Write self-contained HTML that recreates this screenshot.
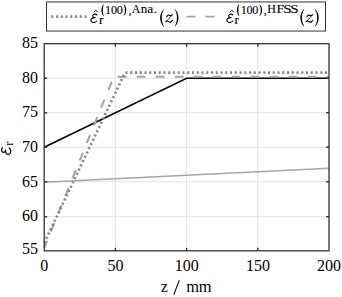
<!DOCTYPE html>
<html><head><meta charset="utf-8">
<style>
html,body{margin:0;padding:0;background:#fff;width:342px;height:297px;overflow:hidden}
svg{display:block}
text{font-family:"Liberation Serif",serif;fill:#000}
</style></head>
<body>
<svg width="342" height="297" viewBox="0 0 342 297">
<rect x="0" y="0" width="342" height="297" fill="#fff"/>
<g stroke="#e3e3e3" stroke-width="1" fill="none">
<line x1="115.40" y1="44.20" x2="115.40" y2="250.30"/>
<line x1="186.60" y1="44.20" x2="186.60" y2="250.30"/>
<line x1="257.80" y1="44.20" x2="257.80" y2="250.30"/>
<line x1="44.70" y1="216.73" x2="328.50" y2="216.73"/>
<line x1="44.70" y1="181.77" x2="328.50" y2="181.77"/>
<line x1="44.70" y1="147.25" x2="328.50" y2="147.25"/>
<line x1="44.70" y1="112.73" x2="328.50" y2="112.73"/>
<line x1="44.70" y1="78.22" x2="328.50" y2="78.22"/>
</g>
<polyline points="44.20,182.27 329.00,168.26" fill="none" stroke="#a6a6a6" stroke-width="1.4"/>
<polyline points="44.20,147.25 186.60,78.22 329.00,78.22" fill="none" stroke="#000" stroke-width="1.5"/>
<path d="M44.2,248 L113.70,76.80" fill="none" stroke="#a3a3a3" stroke-width="2" stroke-dasharray="8.8 10.25" stroke-dashoffset="1.0"/>
<path d="M113.70,76.80 L329,76.80" fill="none" stroke="#a3a3a3" stroke-width="2" stroke-dasharray="8.8 10.2" stroke-dashoffset="15.00"/>
<path d="M44.2,243.1 L125.00,72.60" fill="none" stroke="#858585" stroke-width="2.7" stroke-dasharray="2.0 2.72" stroke-dashoffset="-0.1"/>
<path d="M125.00,72.60 L329,72.60" fill="none" stroke="#858585" stroke-width="2.7" stroke-dasharray="2.0 2.75" stroke-dashoffset="4.25"/>
<rect x="44.20" y="43.70" width="284.80" height="207.10" fill="none" stroke="#333333" stroke-width="1.3"/>
<g stroke="#333333" stroke-width="1.4">
<line x1="115.40" y1="250.80" x2="115.40" y2="247.80"/>
<line x1="115.40" y1="43.70" x2="115.40" y2="46.70"/>
<line x1="186.60" y1="250.80" x2="186.60" y2="247.80"/>
<line x1="186.60" y1="43.70" x2="186.60" y2="46.70"/>
<line x1="257.80" y1="250.80" x2="257.80" y2="247.80"/>
<line x1="257.80" y1="43.70" x2="257.80" y2="46.70"/>
<line x1="44.20" y1="216.73" x2="47.20" y2="216.73"/>
<line x1="329.00" y1="216.73" x2="326.00" y2="216.73"/>
<line x1="44.20" y1="181.77" x2="47.20" y2="181.77"/>
<line x1="329.00" y1="181.77" x2="326.00" y2="181.77"/>
<line x1="44.20" y1="147.25" x2="47.20" y2="147.25"/>
<line x1="329.00" y1="147.25" x2="326.00" y2="147.25"/>
<line x1="44.20" y1="112.73" x2="47.20" y2="112.73"/>
<line x1="329.00" y1="112.73" x2="326.00" y2="112.73"/>
<line x1="44.20" y1="78.22" x2="47.20" y2="78.22"/>
<line x1="329.00" y1="78.22" x2="326.00" y2="78.22"/>
</g>
<text x="22.02 30.02" y="254.10" font-size="16.00">55</text>
<text x="22.01 30.01" y="220.98" font-size="16.00">60</text>
<text x="22.02 30.02" y="186.62" font-size="16.00">65</text>
<text x="22.01 30.01" y="151.95" font-size="16.00">70</text>
<text x="22.02 30.02" y="116.83" font-size="16.00">75</text>
<text x="22.01 30.01" y="82.72" font-size="16.00">80</text>
<text x="22.02 30.02" y="47.55" font-size="16.00">85</text>
<text x="44.30" y="271.20" font-size="16.00" text-anchor="middle">0</text>
<text x="115.50" y="271.20" font-size="16.00" text-anchor="middle">50</text>
<text x="186.70" y="271.20" font-size="16.00" text-anchor="middle">100</text>
<text x="257.90" y="271.20" font-size="16.00" text-anchor="middle">150</text>
<text x="329.10" y="271.20" font-size="16.00" text-anchor="middle">200</text>
<text x="160.87" y="292.20" font-size="16.00">z</text>
<text x="186.26 198.86" y="292.30" font-size="16.40">mm</text>
<line x1="173.8" y1="294.6" x2="179.3" y2="280.3" stroke="#000" stroke-width="1.05"/>
<path transform="translate(10.9,155.0) rotate(-90) scale(1.1) translate(-90.4,-22.6)" d="M96.9,14.9 C96.2,14.0 93.6,13.6 92.9,15.3 C92.4,16.6 93.5,17.6 95.1,17.7 M95.1,17.7 C92.2,17.5 90.6,18.9 90.9,20.5 C91.2,22.1 93.3,22.8 94.8,22.3 C95.7,22.0 96.3,21.6 96.8,21.0" fill="none" stroke="#000" stroke-width="1.1" stroke-linecap="round"/>
<g transform="translate(10.9,155.6) rotate(-90)">
<text x="9.9" y="2.3" font-size="12.8">r</text>
</g>
<rect x="46.5" y="1.95" width="279" height="29.1" fill="#fff" stroke="#333333" stroke-width="1.0"/>
<line x1="51.35" y1="16.6" x2="86.6" y2="16.6" stroke="#858585" stroke-width="2.6" stroke-dasharray="2.0 2.74"/>
<line x1="186.5" y1="16.6" x2="215" y2="16.6" stroke="#a3a3a3" stroke-width="1.9" stroke-dasharray="9 10"/>
<path transform="translate(0.00,0)" d="M96.9,14.9 C96.2,14.0 93.6,13.6 92.9,15.3 C92.4,16.6 93.5,17.6 95.1,17.7 M95.1,17.7 C92.2,17.5 90.6,18.9 90.9,20.5 C91.2,22.1 93.3,22.8 94.8,22.3 C95.7,22.0 96.3,21.6 96.8,21.0" fill="none" stroke="#000" stroke-width="1.15" stroke-linecap="round"/>
<path d="M93.80,12.2 L95.85,10.1 L97.90,12.2" fill="none" stroke="#000" stroke-width="0.95"/>
<text x="99.04" y="24.00" font-size="13.00" stroke="#000" stroke-width="0.15">r</text>
<path d="M103.50,4.20 C100.83,6.77 100.83,13.33 103.50,15.90 L103.85,15.65 C102.52,13.33 102.52,6.77 103.85,4.45 Z" fill="#000"/>
<text x="104.93" y="13.90" font-size="12.20" stroke="#000" stroke-width="0.10">1</text>
<text x="111.04" y="13.90" font-size="12.20" stroke="#000" stroke-width="0.10">0</text>
<text x="116.74" y="13.90" font-size="12.20" stroke="#000" stroke-width="0.10">0</text>
<path d="M123.90,4.20 C127.10,6.77 127.10,13.33 123.90,15.90 L123.55,15.65 C125.42,13.33 125.42,6.77 123.55,4.45 Z" fill="#000"/>
<text x="128.44" y="13.90" font-size="12.20" stroke="#000" stroke-width="0.10">,</text>
<text x="131.78" y="13.25" font-size="12.00" stroke="#000" stroke-width="0.10">A</text>
<text x="130.37" y="13.25" font-size="12.00" transform="scale(1.080,1)" stroke="#000" stroke-width="0.10">n</text>
<text x="131.54" y="13.25" font-size="12.00" transform="scale(1.120,1)" stroke="#000" stroke-width="0.10">a</text>
<text x="127.96" y="13.25" font-size="12.00" transform="scale(1.200,1)" stroke="#000" stroke-width="0.10">.</text>
<path d="M163.70,9.30 C159.03,13.06 159.03,22.64 163.70,26.40 L164.05,26.15 C161.05,22.64 161.05,13.06 164.05,9.55 Z" fill="#000"/>
<g transform="translate(0.00,0)" fill="none" stroke="#000" stroke-linecap="round">
<path d="M166.8,16.9 C167.3,15.3 168.5,14.8 169.5,15.4 C170.5,16.0 171.4,15.6 172.2,14.6" stroke-width="1.2"/>
<path d="M171.9,15.2 L165.9,22.0" stroke-width="0.85"/>
<path d="M166.1,21.5 C167.0,20.2 168.3,21.4 169.4,22.0 C170.6,22.6 171.8,21.7 172.4,20.3" stroke-width="1.2"/>
</g>
<path d="M175.00,9.30 C179.67,13.06 179.67,22.64 175.00,26.40 L174.65,26.15 C177.65,22.64 177.65,13.06 174.65,9.55 Z" fill="#000"/>
<path transform="translate(135.90,0)" d="M96.9,14.9 C96.2,14.0 93.6,13.6 92.9,15.3 C92.4,16.6 93.5,17.6 95.1,17.7 M95.1,17.7 C92.2,17.5 90.6,18.9 90.9,20.5 C91.2,22.1 93.3,22.8 94.8,22.3 C95.7,22.0 96.3,21.6 96.8,21.0" fill="none" stroke="#000" stroke-width="1.15" stroke-linecap="round"/>
<path d="M229.70,12.2 L231.75,10.1 L233.80,12.2" fill="none" stroke="#000" stroke-width="0.95"/>
<text x="234.44" y="24.00" font-size="13.00" stroke="#000" stroke-width="0.15">r</text>
<path d="M239.00,4.20 C236.33,6.77 236.33,13.33 239.00,15.90 L239.35,15.65 C238.02,13.33 238.02,6.77 239.35,4.45 Z" fill="#000"/>
<text x="240.73" y="13.90" font-size="12.20" stroke="#000" stroke-width="0.10">1</text>
<text x="246.54" y="13.90" font-size="12.20" stroke="#000" stroke-width="0.10">0</text>
<text x="252.24" y="13.90" font-size="12.20" stroke="#000" stroke-width="0.10">0</text>
<path d="M259.70,4.20 C262.90,6.77 262.90,13.33 259.70,15.90 L259.35,15.65 C261.22,13.33 261.22,6.77 259.35,4.45 Z" fill="#000"/>
<text x="263.84" y="13.90" font-size="12.20" stroke="#000" stroke-width="0.10">,</text>
<text x="267.15" y="13.25" font-size="12.00" stroke="#000" stroke-width="0.10">H</text>
<text x="240.44" y="13.25" font-size="12.00" transform="scale(1.150,1)" stroke="#000" stroke-width="0.10">F</text>
<text x="226.64" y="13.25" font-size="12.00" transform="scale(1.250,1)" stroke="#000" stroke-width="0.10">S</text>
<text x="232.24" y="13.25" font-size="12.00" transform="scale(1.250,1)" stroke="#000" stroke-width="0.10">S</text>
<path d="M303.90,9.30 C299.23,13.06 299.23,22.64 303.90,26.40 L304.25,26.15 C301.25,22.64 301.25,13.06 304.25,9.55 Z" fill="#000"/>
<g transform="translate(140.20,0)" fill="none" stroke="#000" stroke-linecap="round">
<path d="M166.8,16.9 C167.3,15.3 168.5,14.8 169.5,15.4 C170.5,16.0 171.4,15.6 172.2,14.6" stroke-width="1.2"/>
<path d="M171.9,15.2 L165.9,22.0" stroke-width="0.85"/>
<path d="M166.1,21.5 C167.0,20.2 168.3,21.4 169.4,22.0 C170.6,22.6 171.8,21.7 172.4,20.3" stroke-width="1.2"/>
</g>
<path d="M315.20,9.30 C319.87,13.06 319.87,22.64 315.20,26.40 L314.85,26.15 C317.85,22.64 317.85,13.06 314.85,9.55 Z" fill="#000"/>
</svg>
</body></html>
